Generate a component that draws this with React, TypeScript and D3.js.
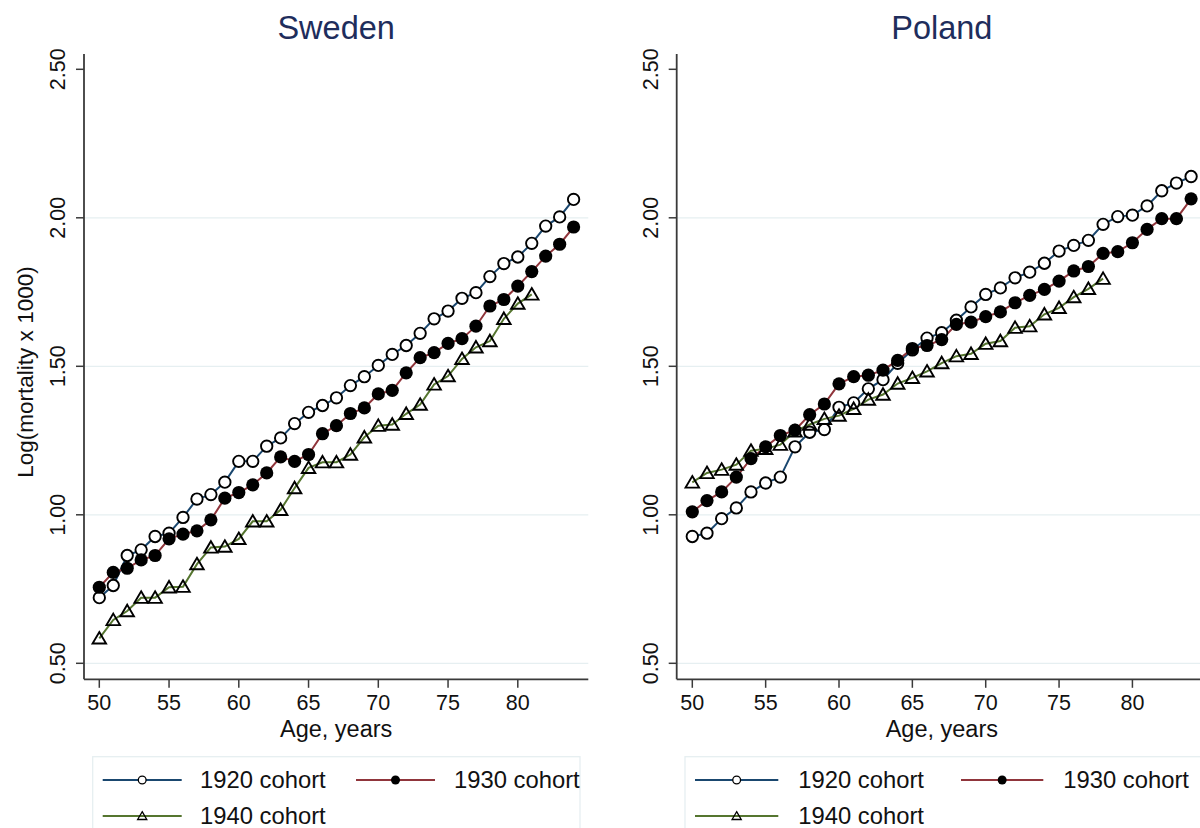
import React from "react";
import * as d3 from "d3";

const ages = d3.range(50, 85);
const yTicks = [0.5, 1.0, 1.5, 2.0, 2.5];
const xTicks = [50, 55, 60, 65, 70, 75, 80];
const gridVals = [0.5, 1.0, 1.5, 2.0];

const sweden1920 = [0.721, 0.762, 0.863, 0.882, 0.927, 0.938, 0.991, 1.053, 1.068, 1.110, 1.180, 1.180, 1.231, 1.259, 1.307, 1.345, 1.368, 1.394, 1.435, 1.465, 1.503, 1.540, 1.570, 1.611, 1.660, 1.686, 1.729, 1.748, 1.802, 1.846, 1.868, 1.914, 1.972, 2.003, 2.062];
const sweden1930 = [0.756, 0.806, 0.820, 0.848, 0.863, 0.919, 0.935, 0.946, 0.983, 1.056, 1.075, 1.101, 1.141, 1.195, 1.180, 1.203, 1.273, 1.300, 1.341, 1.360, 1.407, 1.419, 1.478, 1.529, 1.546, 1.577, 1.593, 1.635, 1.703, 1.725, 1.770, 1.819, 1.871, 1.911, 1.969];
const sweden1940 = [0.584, 0.646, 0.676, 0.721, 0.721, 0.756, 0.758, 0.834, 0.890, 0.893, 0.919, 0.978, 0.978, 1.017, 1.090, 1.158, 1.177, 1.177, 1.203, 1.261, 1.300, 1.304, 1.340, 1.371, 1.439, 1.467, 1.525, 1.564, 1.585, 1.660, 1.711, 1.742];

const poland1920 = [0.927, 0.938, 0.987, 1.023, 1.077, 1.107, 1.127, 1.229, 1.278, 1.287, 1.362, 1.377, 1.424, 1.455, 1.510, 1.555, 1.595, 1.613, 1.655, 1.700, 1.742, 1.764, 1.798, 1.817, 1.847, 1.888, 1.907, 1.924, 1.978, 2.004, 2.009, 2.040, 2.091, 2.117, 2.139];
const poland1930 = [1.010, 1.048, 1.077, 1.127, 1.189, 1.229, 1.267, 1.285, 1.337, 1.373, 1.441, 1.465, 1.470, 1.487, 1.520, 1.560, 1.570, 1.590, 1.641, 1.649, 1.667, 1.683, 1.714, 1.739, 1.759, 1.787, 1.821, 1.836, 1.880, 1.886, 1.916, 1.961, 1.997, 1.997, 2.064];
const poland1940 = [1.109, 1.141, 1.152, 1.169, 1.216, 1.222, 1.236, 1.281, 1.304, 1.323, 1.334, 1.357, 1.388, 1.405, 1.442, 1.461, 1.483, 1.511, 1.534, 1.542, 1.576, 1.585, 1.630, 1.635, 1.675, 1.697, 1.733, 1.761, 1.795];

const seriesLabels = ["1920 cohort", "1930 cohort", "1940 cohort"];
const seriesColors = ["#1a476f", "#90353b", "#55752f"];
const seriesMarkers = ["circleOpen", "circleFilled", "triangle"];

const FONT = "'Liberation Sans', Arial, Helvetica, sans-serif";
const GRID = "#e6eff1";
const AXIS = "#3a3a3a";

type Panel = {
  title: string;
  data: number[][];
  x0: number;
  xRange: [number, number];
  xEnd: number;
  legend: { left: number; line1: [number, number]; line2: [number, number]; text1: number; text2: number; right: number };
};

const yScale = d3.scaleLinear().domain([0.5, 2.5]).range([663.3, 69.3]);
const yTop = 54;
const yBottom = 679.3;

function Marker({ kind, cx, cy, size = 1 }: { kind: string; cx: number; cy: number; size?: number }) {
  if (kind === "circleOpen") {
    return <circle cx={cx} cy={cy} r={5.7 * size} fill="#fff" stroke="#000" strokeWidth={1.9 * size} />;
  }
  if (kind === "circleFilled") {
    return <circle cx={cx} cy={cy} r={6.6 * size} fill="#000" />;
  }
  const h = 11.5 * size;
  const w = 13.5 * size;
  const top = cy - h * 0.55;
  const bot = cy + h * 0.45;
  const p = `M${cx},${top}L${cx + w / 2},${bot}L${cx - w / 2},${bot}Z`;
  return <path d={p} fill="none" stroke="#000" strokeWidth={1.9 * size} strokeLinejoin="miter" />;
}

function PanelView({ p }: { p: Panel }) {
  const x = d3.scaleLinear().domain([50, 84]).range(p.xRange);
  const line = d3
    .line<number>()
    .x((_, i) => x(ages[i]))
    .y((d) => yScale(d));
  const center = (p.x0 + p.xEnd) / 2;
  const lg = p.legend;
  return (
    <g>
      <text x={center} y={39} textAnchor="middle" fontSize={32.5} fill="#1e2d5c" fontFamily={FONT}>
        {p.title}
      </text>
      {gridVals.map((v) => (
        <line key={v} x1={p.x0} x2={p.xEnd} y1={yScale(v)} y2={yScale(v)} stroke={GRID} strokeWidth={1.3} />
      ))}
      <line x1={p.x0} x2={p.x0} y1={yTop} y2={yBottom} stroke={AXIS} strokeWidth={1.8} />
      {yTicks.map((v) => (
        <g key={v}>
          <line x1={p.x0 - 8} x2={p.x0} y1={yScale(v)} y2={yScale(v)} stroke={AXIS} strokeWidth={1.5} />
          <text
            transform={`translate(${p.x0 - 19},${yScale(v)}) rotate(-90)`}
            textAnchor="middle"
            fontSize={21.5}
            fill="#111"
            fontFamily={FONT}
          >
            {v.toFixed(2)}
          </text>
        </g>
      ))}
      <line x1={p.x0} x2={p.xEnd} y1={yBottom} y2={yBottom} stroke={AXIS} strokeWidth={1.8} />
      {xTicks.map((t) => (
        <g key={t}>
          <line x1={x(t)} x2={x(t)} y1={yBottom} y2={yBottom + 8.5} stroke={AXIS} strokeWidth={1.5} />
          <text x={x(t)} y={710} textAnchor="middle" fontSize={21.5} fill="#111" fontFamily={FONT}>
            {t}
          </text>
        </g>
      ))}
      <text x={center} y={737} textAnchor="middle" fontSize={23.5} fill="#111" fontFamily={FONT}>
        Age, years
      </text>
      {p.data.map((s, si) => (
        <path key={"l" + si} d={line(s) || ""} fill="none" stroke={seriesColors[si]} strokeWidth={2} />
      ))}
      {p.data.map((s, si) =>
        s.map((v, i) => (
          <Marker key={`m${si}-${i}`} kind={seriesMarkers[si]} cx={x(ages[i])} cy={yScale(v)} />
        ))
      )}
      <rect x={lg.left} y={756.7} width={lg.right - lg.left} height={100} fill="#fff" stroke={GRID} strokeWidth={1.3} />
      {[0, 1, 2].map((si) => {
        const row = si === 2 ? 1 : 0;
        const col = si === 1 ? 1 : 0;
        const ly = row === 0 ? 780 : 816;
        const [a, b] = col === 0 ? lg.line1 : lg.line2;
        const tx = col === 0 ? lg.text1 : lg.text2;
        return (
          <g key={"lg" + si}>
            <line x1={a} x2={b} y1={ly} y2={ly} stroke={seriesColors[si]} strokeWidth={2} />
            <Marker kind={seriesMarkers[si]} cx={(a + b) / 2} cy={ly} size={0.68} />
            <text x={tx} y={ly + 8.3} fontSize={23.8} fill="#111" fontFamily={FONT}>
              {seriesLabels[si]}
            </text>
          </g>
        );
      })}
    </g>
  );
}

const panels: Panel[] = [
  {
    title: "Sweden",
    data: [sweden1920, sweden1930, sweden1940],
    x0: 84,
    xRange: [99.3, 573.6],
    xEnd: 588.3,
    legend: { left: 92.7, line1: [102.7, 181.7], line2: [356, 435], text1: 200, text2: 454, right: 580 },
  },
  {
    title: "Poland",
    data: [poland1920, poland1930, poland1940],
    x0: 676.7,
    xRange: [692.3, 1191.1],
    xEnd: 1207,
    legend: { left: 685, line1: [695, 778.3], line2: [961, 1043.3], text1: 798.3, text2: 1063.3, right: 1205 },
  },
];

export default function App() {
  return (
    <svg
      width={1200}
      height={828}
      viewBox="0 0 1200 828"
      style={{ position: "absolute", left: 0, top: 0, background: "#fff" }}
    >
      <rect x={0} y={0} width={1200} height={828} fill="#fff" />
      {panels.map((p) => (
        <PanelView key={p.title} p={p} />
      ))}
      <text
        transform={`translate(33,372) rotate(-90)`}
        textAnchor="middle"
        fontSize={22.5}
        fill="#111"
        fontFamily={FONT}
      >
        Log(mortality x 1000)
      </text>
    </svg>
  );
}
